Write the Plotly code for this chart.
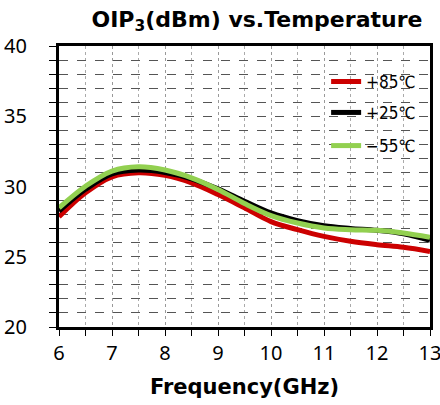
import plotly.graph_objects as go

freq_ghz = [6.0, 6.5, 7.0, 7.5, 8.0, 8.5, 9.0, 9.5, 10.0, 10.5, 11.0, 11.5, 12.0, 12.5, 13.0]
oip3_p85 = [27.84, 29.55, 30.69, 30.98, 30.79, 30.26, 29.43, 28.48, 27.50, 26.93, 26.45, 26.10, 25.86, 25.67, 25.38]
oip3_p25 = [28.24, 29.80, 30.90, 31.17, 31.00, 30.55, 29.83, 28.95, 28.12, 27.57, 27.21, 27.02, 26.88, 26.64, 26.17]
oip3_m55 = [28.48, 30.02, 31.10, 31.40, 31.17, 30.62, 29.79, 28.79, 27.93, 27.40, 27.05, 26.93, 26.88, 26.69, 26.38]

series_names = ["+85℃", "+25℃", "−55℃"]
series_values = [oip3_p85, oip3_p25, oip3_m55]
series_colors = ["#cc0000", "#000000", "#92d050"]

x_ticks = [6, 7, 8, 9, 10, 11, 12, 13]
y_ticks = [20, 25, 30, 35, 40]

fig = go.Figure()
legend_keys = ["legend", "legend2", "legend3"]
for name, vals, col, lk in zip(series_names, series_values, series_colors, legend_keys):
    fig.add_trace(go.Scatter(
        x=freq_ghz, y=vals, name=name, mode="lines",
        line=dict(color=col, width=5, shape="spline", smoothing=1.0),
        legend=lk,
    ))

leg_font = dict(family="DejaVu Sans Condensed", size=17, color="black")
leg_common = dict(xanchor="left", yanchor="middle", bgcolor="rgba(0,0,0,0)",
                  font=leg_font, x=0.72)
fig.update_layout(
    width=440, height=405,
    margin=dict(l=59, r=10, t=46, b=78, autoexpand=False),
    paper_bgcolor="white", plot_bgcolor="white",
    title=dict(text="OIP<sub>3</sub>(dBm) vs.Temperature", x=0.584, xanchor="center",
               y=0.953, yanchor="middle",
               font=dict(family="DejaVu Sans", size=22, color="black", weight="bold")),
    legend=dict(y=0.872, **leg_common),
    legend2=dict(y=0.762, **leg_common),
    legend3=dict(y=0.644, **leg_common),
    showlegend=True,
)

fig.update_xaxes(
    range=[6, 13], tickvals=x_ticks, ticks="outside", ticklen=6, tickwidth=1, tickcolor="black",
    showline=True, linecolor="black", linewidth=3, mirror=True,
    showgrid=True, gridcolor="#999999", gridwidth=1, griddash="dot",
    minor=dict(dtick=0.5, ticks="outside", ticklen=6, tickcolor="black",
               showgrid=True, gridcolor="#aaaaaa", griddash="dot"),
    tickfont=dict(family="Noto Sans", size=20, color="black"),
    ticklabeloverflow="allow",
    title=dict(text="Frequency(GHz)", standoff=15,
               font=dict(family="DejaVu Sans", size=21, color="black", weight="bold")),
    zeroline=False, automargin=False,
)
fig.update_yaxes(
    range=[20, 40], tickvals=y_ticks, ticks="outside", ticklen=7, tickwidth=1, tickcolor="black",
    showline=True, linecolor="black", linewidth=3, mirror=True,
    showgrid=True, gridcolor="#555555", gridwidth=1, griddash="dash",
    minor=dict(dtick=1, ticks="outside", ticklen=7, tickcolor="black",
               showgrid=True, gridcolor="#555555", griddash="dash"),
    tickfont=dict(family="Noto Sans", size=20, color="black"),
    ticklabelstandoff=18, ticklabeloverflow="allow",
    zeroline=False, automargin=False,
)

fig.write_html("out.html", config={"displayModeBar": False},
               post_script="document.body.style.margin='0';document.body.style.overflow='hidden';")
